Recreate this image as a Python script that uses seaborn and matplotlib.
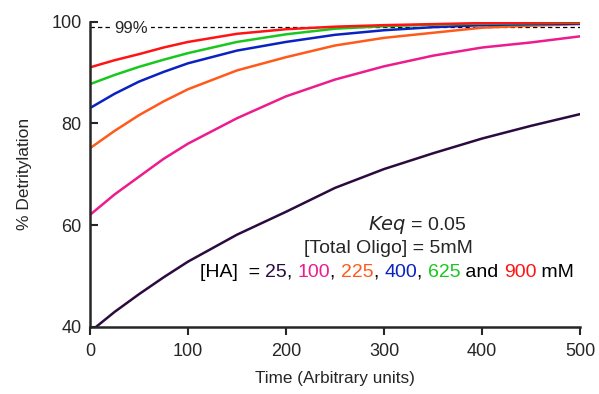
import numpy as np
import pandas as pd
import seaborn as sns
import matplotlib.pyplot as plt
from matplotlib.offsetbox import TextArea, HPacker, AnnotationBbox

# values (time vs % detritylation)
time = [0, 25, 50, 75, 100, 150, 200, 250, 300, 350, 400, 450, 500]
ha_25 = [39.0, 42.9, 46.4, 49.7, 52.8, 58.1, 62.6, 67.3, 71.0, 74.1, 77.0, 79.5, 81.8]
ha_100 = [62.0, 66.0, 69.5, 73.0, 76.0, 81.0, 85.3, 88.6, 91.2, 93.3, 94.9, 95.9, 97.1]
ha_225 = [75.1, 78.5, 81.6, 84.3, 86.7, 90.4, 93.0, 95.3, 96.8, 97.8, 98.8, 99.2, 99.5]
ha_400 = [83.0, 85.8, 88.2, 90.1, 91.8, 94.3, 96.0, 97.4, 98.3, 98.9, 99.3, 99.5, 99.6]
ha_625 = [87.7, 89.5, 91.1, 92.5, 93.8, 96.0, 97.5, 98.6, 99.1, 99.4, 99.6, 99.7, 99.8]
ha_900 = [91.0, 92.4, 93.6, 94.9, 96.0, 97.6, 98.5, 99.0, 99.3, 99.5, 99.7, 99.8, 99.9]

ha_labels = ["25", "100", "225", "400", "625", "900"]
series = [ha_25, ha_100, ha_225, ha_400, ha_625, ha_900]
colors = ["#2b0b3f", "#ec1c8e", "#ff5a1a", "#0a23c0", "#18c81e", "#ff1414"]

rows = []
for lab, vals in zip(ha_labels, series):
    for t, v in zip(time, vals):
        rows.append({"time": t, "det": v, "HA": lab})
df = pd.DataFrame(rows)

sns.set_style("ticks")
plt.rcParams["font.family"] = ["Liberation Sans", "DejaVu Sans"]

fig = plt.figure(figsize=(5.99, 3.94), dpi=100)
ax = fig.add_axes([0.1503, 0.1708, 0.818, 0.7744])

sns.lineplot(data=df, x="time", y="det", hue="HA", palette=colors,
             linewidth=1.8, legend=False, ax=ax)

# 99% reference line
ax.axhline(99, color="black", linestyle=(0, (3.5, 2.5)), linewidth=0.9, zorder=1)
ax.text(42, 98.7, "99%", fontsize=12, ha="center", va="center",
        bbox=dict(facecolor="white", edgecolor="none", pad=2), zorder=2)

ax.set_xlim(0, 500)
ax.set_ylim(40, 100)
ax.set_xticks([0, 100, 200, 300, 400, 500])
ax.set_yticks([40, 60, 80, 100])
ax.tick_params(axis="x", direction="out", length=6, width=1.5, labelsize=13, pad=6)
ax.tick_params(axis="y", direction="in", length=6, width=1.5, labelsize=13, pad=6)
for s in ["left", "bottom"]:
    ax.spines[s].set_linewidth(1.8)
sns.despine(ax=ax)

ax.set_xlabel("Time (Arbitrary units)", fontsize=12.3, labelpad=8)
ax.set_ylabel("% Detritylation", fontsize=12.5, labelpad=14)

ax.text(334, 60, r"$\it{Keq}$ = 0.05", fontsize=14, ha="center", va="center")
ax.text(305, 55.3, "[Total Oligo] = 5mM", fontsize=14, ha="center", va="center")

parts = [("[HA]  = ", "black"), ("25", colors[0]), (", ", "black"),
         ("100", colors[1]), (", ", "black"), ("225", colors[2]), (", ", "black"),
         ("400", colors[3]), (", ", "black"), ("625", colors[4]),
         (" and ", "black"), ("900", colors[5]), (" mM", "black")]
boxes = [TextArea(t, textprops=dict(color=c, fontsize=14)) for t, c in parts]
pack = HPacker(children=boxes, align="baseline", pad=0, sep=0)
ab = AnnotationBbox(pack, (112, 50.6), xycoords="data", frameon=False,
                    box_alignment=(0, 0.5), pad=0)
ax.add_artist(ab)

fig.savefig("out.png", dpi=100)
